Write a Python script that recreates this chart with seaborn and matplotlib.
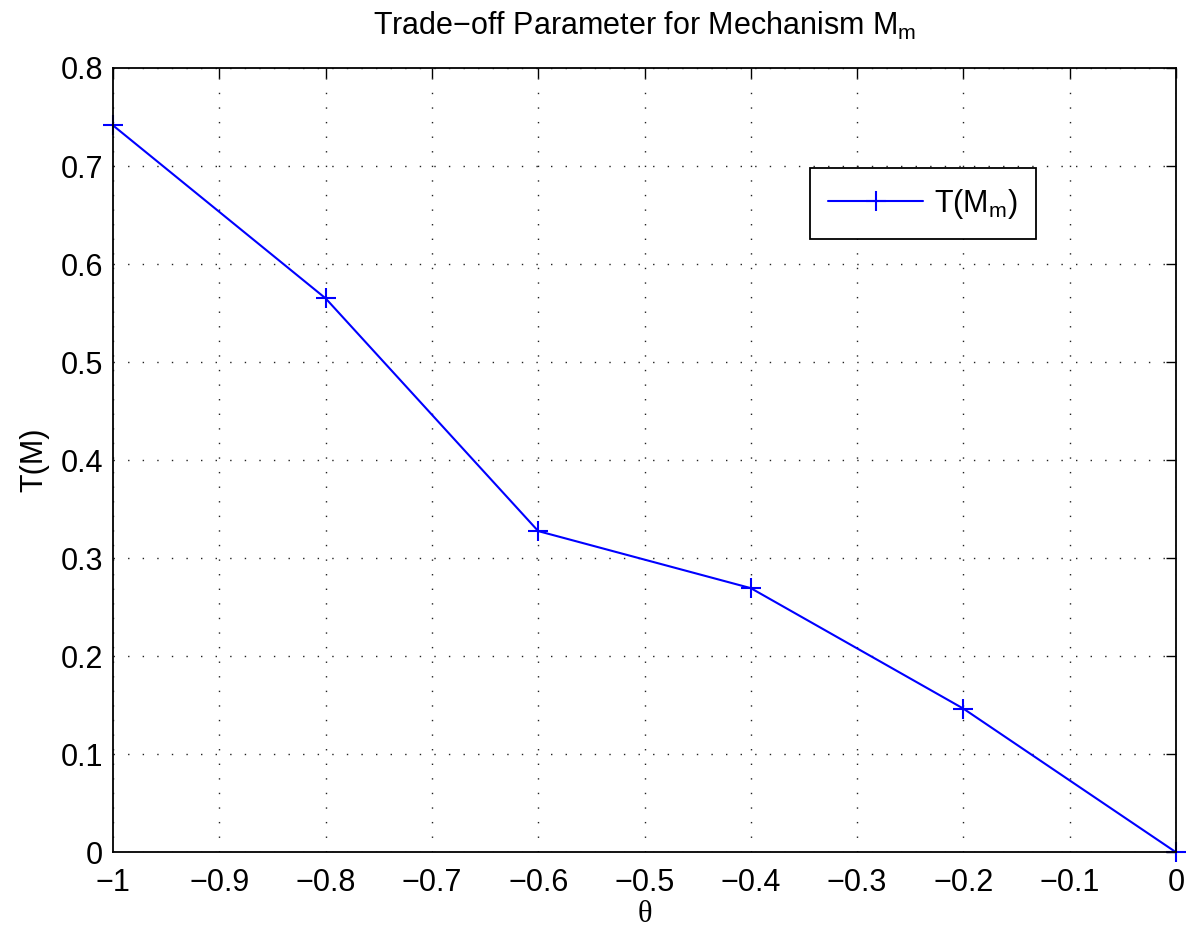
import matplotlib
matplotlib.use("Agg")
import matplotlib.pyplot as plt
import seaborn as sns
import pandas as pd

theta = [-1.0, -0.8, -0.6, -0.4, -0.2, 0.0]
t_values = [0.7414, 0.5650, 0.3276, 0.2694, 0.1465, 0.0]
xtick_vals = [-1.0, -0.9, -0.8, -0.7, -0.6, -0.5, -0.4, -0.3, -0.2, -0.1, 0.0]
xtick_labels = ["\u22121", "\u22120.9", "\u22120.8", "\u22120.7", "\u22120.6", "\u22120.5",
                "\u22120.4", "\u22120.3", "\u22120.2", "\u22120.1", "0"]
ytick_vals = [0.0, 0.1, 0.2, 0.3, 0.4, 0.5, 0.6, 0.7, 0.8]
ytick_labels = ["0", "0.1", "0.2", "0.3", "0.4", "0.5", "0.6", "0.7", "0.8"]
series_label = "T(M$_\\mathregular{m}$)"
title_text = "Trade\u2212off Parameter for Mechanism M$_\\mathregular{m}$"

sns.set_style("white")
plt.rcParams["font.family"] = ["Liberation Sans", "DejaVu Sans"]
plt.rcParams["mathtext.fontset"] = "custom"
plt.rcParams["mathtext.rm"] = "Liberation Sans"
plt.rcParams["axes.unicode_minus"] = True
plt.rcParams["text.color"] = "black"
plt.rcParams["axes.labelcolor"] = "black"

df = pd.DataFrame({"theta": theta, "T": t_values})

fig = plt.figure(figsize=(11.91, 9.35), dpi=100)
ax = fig.add_axes([0.0949, 0.0885, 0.8925, 0.8388])

sns.lineplot(data=df, x="theta", y="T", ax=ax, color="#0000ff", linewidth=1.5,
             marker="+", markersize=14, markeredgewidth=1.5,
             markeredgecolor="#0000ff", label=series_label, clip_on=False)

ax.set_xlim(-1, 0)
ax.set_ylim(0, 0.8)
ax.set_xticks(xtick_vals)
ax.set_xticklabels(xtick_labels)
ax.set_yticks(ytick_vals)
ax.set_yticklabels(ytick_labels)

ax.tick_params(direction="in", length=7, width=1.0, colors="black",
               top=True, right=True, labelsize=22)
ax.tick_params(axis="x", pad=11)
ax.tick_params(axis="y", pad=7)

for s in ax.spines.values():
    s.set_visible(True)
    s.set_color("black")
    s.set_linewidth(1.3)

ax.grid(True, which="major", color="#222222", linestyle=(0, (1, 9.5)), linewidth=1.0)
ax.set_axisbelow(True)

ax.set_xlabel("\u03b8", fontsize=22, family=["Liberation Serif", "DejaVu Serif"], labelpad=2)
ax.set_ylabel("T(M)", fontsize=22, labelpad=8)
ax.set_title(title_text, fontsize=22, pad=24)

leg = ax.legend(loc="upper right", bbox_to_anchor=(0.868, 0.872), fontsize=22,
                frameon=True, fancybox=False, edgecolor="black", framealpha=1,
                handlelength=3.1, handletextpad=0.35, borderpad=0.6,
                borderaxespad=0)
leg.get_frame().set_linewidth(1.3)

fig.savefig("out.png", dpi=100, facecolor="white")
